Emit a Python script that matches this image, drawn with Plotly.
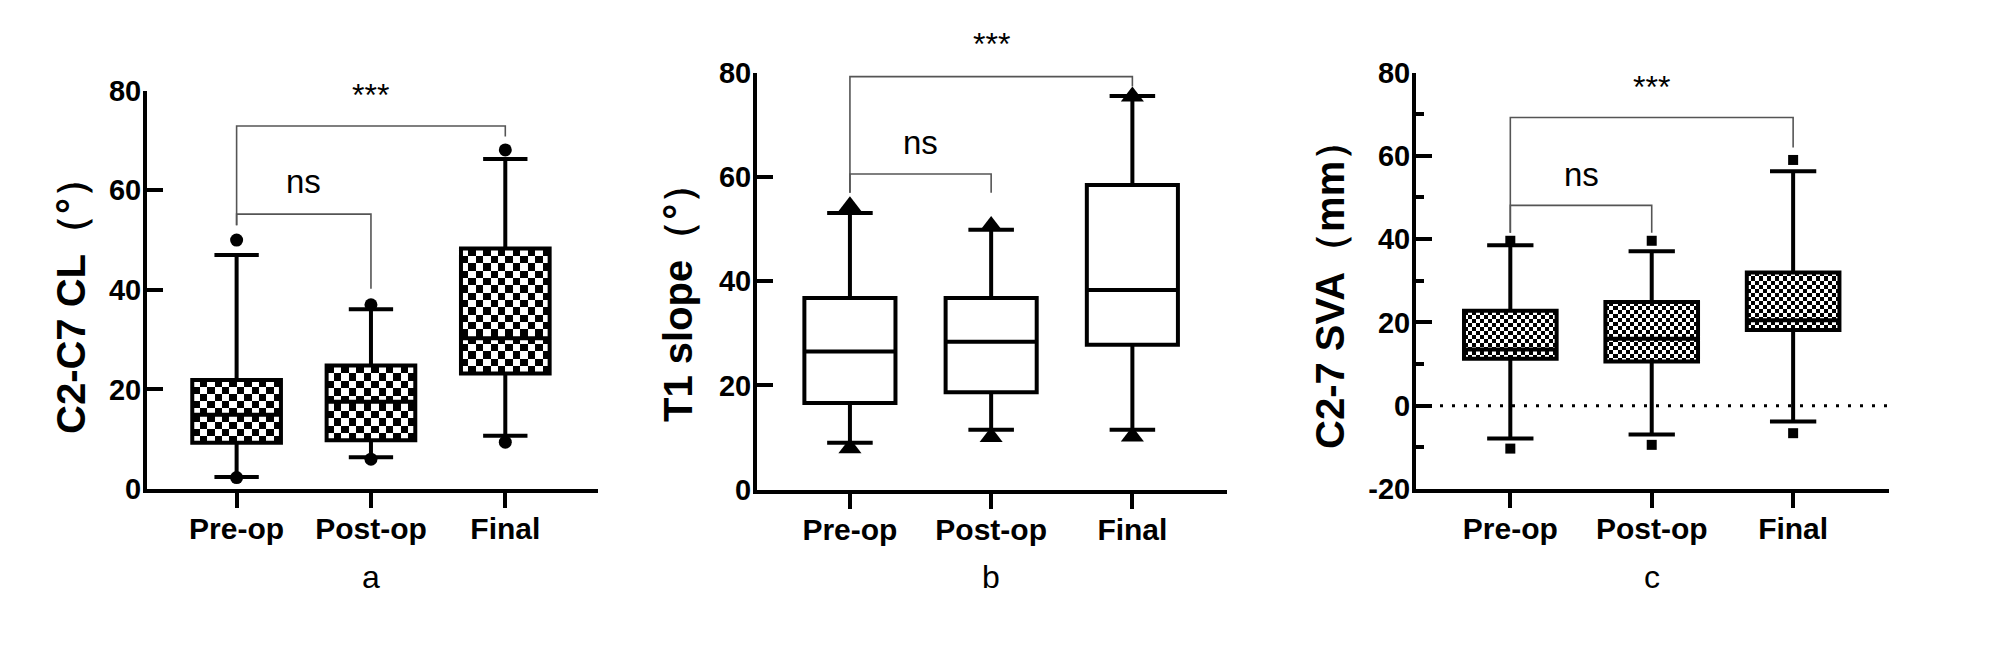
import numpy as np
import plotly.graph_objects as go

groups = ['Pre-op', 'Post-op', 'Final']
pos = [0, 1, 2]

# a: C2-C7 CL (deg)
cl_q1 = [9.3, 9.8, 23.2]
cl_med = [14.9, 17.5, 30.3]
cl_q3 = [21.9, 24.8, 48.3]
cl_lo = [2.4, 6.4, 10.7]
cl_hi = [47.0, 36.1, 66.3]
cl_min = [2.3, 6.0, 9.4]
cl_max = [50.0, 37.0, 68.1]

# b: T1 slope (deg)
t1_q1 = [16.6, 18.7, 27.8]
t1_med = [26.5, 28.4, 38.3]
t1_q3 = [36.8, 36.8, 58.5]
t1_lo = [9.0, 11.5, 11.5]
t1_hi = [53.1, 49.9, 75.6]
t1_min = [7.9, 10.1, 10.2]
t1_max = [54.4, 50.6, 75.5]

# c: C2-7 SVA (mm)
sva_q1 = [11.3, 10.6, 18.2]
sva_med = [13.5, 16.1, 20.5]
sva_q3 = [22.8, 24.9, 32.0]
sva_lo = [-7.9, -6.9, -3.8]
sva_hi = [38.5, 37.1, 56.3]
sva_min = [-10.3, -9.4, -6.6]
sva_max = [39.6, 39.6, 59.0]

# significance brackets: (left, right, top, left end, right end, label, label y)
cl_sig = [(0, 1, 55.2, 53.0, 40.2, 'ns', 61.7), (0, 2, 72.9, 53.0, 70.8, '***', 79.2)]
t1_sig = [(0, 1, 60.6, 57.0, 57.0, 'ns', 66.7), (0, 2, 79.3, 57.0, 77.4, '***', 85.6)]
sva_sig = [(0, 1, 48.1, 41.5, 41.5, 'ns', 55.6), (0, 2, 69.2, 41.5, 62.0, '***', 76.6)]

cl_ticks = [0, 20, 40, 60, 80]
t1_ticks = [0, 20, 40, 60, 80]
sva_ticks = [-20, 0, 20, 40, 60, 80]

FONT = 'Liberation Sans, Arial, sans-serif'
W, H = 2008, 652
OFF = 8  # page body margin shifts the figure by 8px

fig = go.Figure()


def checker(cx, lo, hi, width, ncols, cell, xa, ya):
    # checkerboard fill texture for a box
    nrows = max(1, int(round((hi - lo) / cell)))
    z = np.indices((nrows, ncols)).sum(axis=0) % 2
    return go.Heatmap(
        x=np.linspace(cx - width / 2, cx + width / 2, ncols + 1),
        y=np.linspace(lo, hi, nrows + 1),
        z=z, zmin=0, zmax=1,
        colorscale=[[0, 'white'], [1, 'black']],
        showscale=False, hoverinfo='skip',
        xaxis=xa, yaxis=ya
    )


def add_panel(n, q1, med, q3, lo, hi, mn, mx, sig, yr, symbol, msize, width, pattern=None):
    xa = 'x' if n == 1 else f'x{n}'
    ya = 'y' if n == 1 else f'y{n}'
    if pattern:
        ncols, cell = pattern
        for i in range(3):
            fig.add_trace(checker(pos[i], q1[i], q3[i], width, ncols, cell, xa, ya))
    fig.add_trace(go.Box(
        x=pos, q1=q1, median=med, q3=q3, lowerfence=lo, upperfence=hi,
        width=width, whiskerwidth=0.5, boxpoints=False,
        fillcolor='rgba(0,0,0,0)', line=dict(color='black', width=4),
        hoverinfo='skip', xaxis=xa, yaxis=ya
    ))
    fig.add_trace(go.Scatter(
        x=pos + pos, y=mx + mn, mode='markers',
        marker=dict(symbol=symbol, size=msize, color='black'),
        cliponaxis=False, xaxis=xa, yaxis=ya
    ))
    for left, right, top, lend, rend, label, ly in sig:
        fig.add_trace(go.Scatter(
            x=[left, left, right, right], y=[lend, top, top, rend],
            mode='lines', line=dict(color='#555555', width=1.6),
            hoverinfo='skip', xaxis=xa, yaxis=ya
        ))
        # label placed in axis-domain units so it may sit above the range
        fig.add_annotation(
            x=(left + right) / 2, y=(ly - yr[0]) / (yr[1] - yr[0]),
            xref=xa, yref=f'{ya} domain', text=label,
            showarrow=False, yanchor='middle',
            font=dict(size=32 if label == '***' else 33, color='black', family=FONT)
        )


add_panel(1, cl_q1, cl_med, cl_q3, cl_lo, cl_hi, cl_min, cl_max, cl_sig, [0, 80],
          'circle', 13, 0.66, pattern=(12, 1.45))
add_panel(2, t1_q1, t1_med, t1_q3, t1_lo, t1_hi, t1_min, t1_max, t1_sig, [0, 80],
          'triangle-up', 20, 0.645)
add_panel(3, sva_q1, sva_med, sva_q3, sva_lo, sva_hi, sva_min, sva_max, sva_sig, [-20, 80],
          'square', 10, 0.655, pattern=(23, 0.96))

# zero reference line in panel c
fig.add_shape(type='line', xref='x3 domain', yref='y3', x0=0, x1=1, y0=0, y1=0,
              line=dict(color='black', width=3, dash='3px,9px'))


def px_x(px):
    return (px - OFF) / W


def px_y(py):
    return 1 - (py - OFF) / H


panels = [
    # x-domain px, y-domain px (top, bottom), x range, y range, ticks, title, title pos, letter
    ((147, 598), (90.7, 489), [-0.667, 2.69], [0, 80], cl_ticks, 'C2-C7 CL（°）', (71, 296), 'a'),
    ((757, 1227), (73, 489.5), [-0.658, 2.67], [0, 80], t1_ticks, 'T1 slope（°）', (678, 293), 'b'),
    ((1416, 1889), (72.5, 489), [-0.667, 2.678], [-20, 80], sva_ticks, 'C2-7 SVA（mm）', (1330, 285), 'c'),
]

layout = {}
for i, (xd, yd, xr, yr, ticks, title, tpos, letter) in enumerate(panels, start=1):
    sx = '' if i == 1 else str(i)
    layout[f'xaxis{sx}'] = dict(
        domain=[px_x(xd[0]), px_x(xd[1])], range=xr, anchor=f'y{sx}',
        tickvals=pos, ticktext=groups, showline=True, linewidth=4, linecolor='black',
        ticks='outside', ticklen=15, tickwidth=4, tickcolor='black',
        showgrid=False, zeroline=False, automargin=False, ticklabelstandoff=-5,
        tickfont=dict(size=30, color='black', family=FONT, weight='bold')
    )
    layout[f'yaxis{sx}'] = dict(
        domain=[px_y(yd[1]), px_y(yd[0])], range=yr, anchor=f'x{sx}',
        tickvals=ticks, ticktext=[str(t) for t in ticks],
        showline=True, linewidth=4, linecolor='black',
        ticks='inside', ticklen=16, tickwidth=4, tickcolor='black',
        showgrid=False, zeroline=False, automargin=False, ticklabelstandoff=-4,
        tickfont=dict(size=29, color='black', family=FONT, weight='bold')
    )
    fig.add_annotation(
        x=px_x(tpos[0]), y=px_y(tpos[1]), xref='paper', yref='paper', text=title,
        textangle=-90, showarrow=False, xanchor='center', yanchor='middle',
        font=dict(size=40, color='black', family=FONT, weight='bold')
    )
    fig.add_annotation(
        x=1, y=px_y(577), xref=f'x{sx}', yref='paper', text=letter,
        showarrow=False, yanchor='middle',
        font=dict(size=32, color='black', family=FONT)
    )

layout['yaxis3']['minor'] = dict(dtick=10, ticks='inside', ticklen=8, tickwidth=4, tickcolor='black')

fig.update_layout(
    **layout,
    width=W, height=H, autosize=False,
    margin=dict(l=0, r=0, t=0, b=0, autoexpand=False),
    plot_bgcolor='white', paper_bgcolor='white',
    showlegend=False,
    font=dict(family=FONT, color='black')
)

fig.write_html("out.html")
